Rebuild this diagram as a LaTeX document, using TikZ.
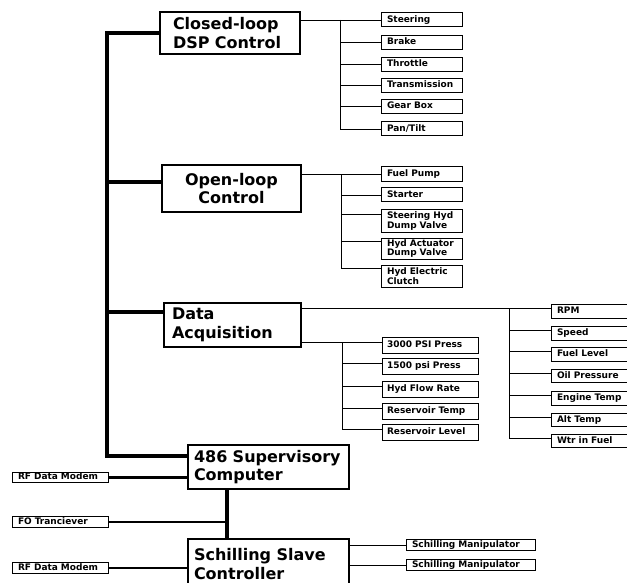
\documentclass[tikz,border=0pt]{standalone}
\usepackage{fontspec}
\setmainfont{DejaVu Sans}
\newcommand{\boxbig}{\fontsize{16}{18.5}\selectfont\bfseries\hyphenpenalty=10000\exhyphenpenalty=10000}
\newcommand{\boxsmall}{\fontsize{9}{9.5}\selectfont\bfseries\hyphenpenalty=10000\exhyphenpenalty=10000}

\begin{document}
\begin{tikzpicture}[x=1pt, y=-1pt,
    mainbox/.style={draw, line width=1.3pt, font=\boxbig, align=left, inner xsep=9pt, inner ysep=2pt},
    itembox/.style={draw, line width=1pt, font=\boxsmall, align=left, inner xsep=6pt, inner ysep=1pt, text width=69pt},
    oneline/.style={text height=6.5pt, text depth=1.7pt},
    wire/.style={line width=0.9pt},
    bus/.style={line width=4pt, line join=miter}]
    \useasboundingbox (0,0) rectangle (627,583);
    \clip (0,0) rectangle (627,583);

    % Main blocks
    \node[mainbox, text width=114pt, inner xsep=13pt, minimum height=42pt] (cl) at (230,33) {Closed-loop\\DSP Control};
    \node[mainbox, align=center, text width=121pt, minimum height=47pt] (ol) at (231.5,188.5) {Open-loop\\Control};
    \node[mainbox, text width=121pt, inner xsep=8pt, minimum height=44pt] (da) at (232.5,325) {Data\\Acquisition};
    \node[mainbox, text width=149pt, inner xsep=6pt, minimum height=44pt] (sup) at (268.5,467) {486 Supervisory\\Computer};
    \node[mainbox, text width=149pt, inner xsep=6pt, minimum height=50pt] (sch) at (268.5,564) {Schilling Slave\\Controller};

    % Backbone from the supervisory computer
    \coordinate (bustop) at (107,33);
    \coordinate (olin) at ([yshift=6pt]ol.west);
    \coordinate (dain) at ([yshift=13pt]da.west);
    \coordinate (supin) at ([yshift=11pt]sup.west);
    \draw[bus] (cl.west) -- (bustop) -- (bustop |- supin) -- (supin);
    \draw[bus] (olin) -- (olin -| bustop);
    \draw[bus] (dain) -- (dain -| bustop);

    % Closed-loop outputs
    \node[itembox, oneline, minimum height=14pt] (steer) at (421.5,20) {Steering};
    \node[itembox, oneline, minimum height=14pt] (brake) at (421.5,42.5) {Brake};
    \node[itembox, oneline, minimum height=14pt] (throt) at (421.5,64.5) {Throttle};
    \node[itembox, oneline, minimum height=14pt] (trans) at (421.5,85.5) {Transmission};
    \node[itembox, oneline, minimum height=14pt] (gear) at (421.5,106.5) {Gear Box};
    \node[itembox, oneline, minimum height=14pt] (pan) at (421.5,129) {Pan/Tilt};
    \coordinate (cltrunk) at (340,20);
    \draw[wire] (cl.east |- steer.west) -- (steer.west);
    \draw[wire] (cltrunk) -- (cltrunk |- pan.west) -- (pan.west);
    \draw[wire] (cltrunk |- brake.west) -- (brake.west);
    \draw[wire] (cltrunk |- throt.west) -- (throt.west);
    \draw[wire] (cltrunk |- trans.west) -- (trans.west);
    \draw[wire] (cltrunk |- gear.west) -- (gear.west);

    % Open-loop outputs
    \node[itembox, oneline, minimum height=15pt] (fuel) at (421.5,174.5) {Fuel Pump};
    \node[itembox, oneline, minimum height=14pt] (start) at (421.5,195) {Starter};
    \node[itembox, minimum height=22pt] (shdv) at (421.5,221) {Steering Hyd\\Dump Valve};
    \node[itembox, minimum height=21pt] (hadv) at (421.5,248.5) {Hyd Actuator\\Dump Valve};
    \node[itembox, minimum height=22pt] (hec) at (421.5,276) {Hyd Electric\\Clutch};
    \coordinate (oltrunk) at (341,174.5);
    \coordinate (shdvin) at ([yshift=-5pt]shdv.north west);
    \coordinate (hadvin) at ([yshift=-4pt]hadv.north west);
    \coordinate (hecin) at ([yshift=-4pt]hec.north west);
    \draw[wire] (ol.east |- fuel.west) -- (fuel.west);
    \draw[wire] (oltrunk) -- (oltrunk |- hecin) -- (hecin);
    \draw[wire] (oltrunk |- start.west) -- (start.west);
    \draw[wire] (oltrunk |- shdvin) -- (shdvin);
    \draw[wire] (oltrunk |- hadvin) -- (hadvin);

    % Hydraulic sensors
    \node[itembox, oneline, inner xsep=5pt, text width=86pt, minimum height=16pt] (p3000) at (430,345) {3000 PSI Press};
    \node[itembox, oneline, inner xsep=5pt, text width=86pt, minimum height=16pt] (p1500) at (430,366.5) {1500 psi Press};
    \node[itembox, oneline, inner xsep=5pt, text width=86pt, minimum height=16pt] (flow) at (430,389) {Hyd Flow Rate};
    \node[itembox, oneline, inner xsep=5pt, text width=86pt, minimum height=16pt] (rtemp) at (430,411) {Reservoir Temp};
    \node[itembox, oneline, inner xsep=5pt, text width=86pt, minimum height=16pt] (rlevel) at (430,432.5) {Reservoir Level};
    \coordinate (hytrunk) at (342,0);
    \coordinate (p3000in) at ([yshift=3pt]p3000.west);
    \coordinate (p1500in) at ([yshift=3pt]p1500.west);
    \coordinate (flowin) at ([yshift=3pt]flow.west);
    \coordinate (rtempin) at ([yshift=3pt]rtemp.west);
    \coordinate (rlevelin) at ([yshift=3pt]rlevel.west);
    \draw[wire] (p3000in -| da.east) -- (p3000in);
    \draw[wire] (p3000in -| hytrunk) -- (rlevelin -| hytrunk) -- (rlevelin);
    \draw[wire] (p1500in -| hytrunk) -- (p1500in);
    \draw[wire] (flowin -| hytrunk) -- (flowin);
    \draw[wire] (rtempin -| hytrunk) -- (rtempin);

    % Engine sensors
    \node[itembox, oneline, text width=78pt, minimum height=13.5pt] (rpm) at (596,311.5) {RPM};
    \node[itembox, oneline, text width=78pt, minimum height=13.5pt] (speed) at (596,333.5) {Speed};
    \node[itembox, oneline, text width=78pt, minimum height=13.5pt] (flevel) at (596,354.5) {Fuel Level};
    \node[itembox, oneline, text width=78pt, minimum height=13.5pt] (oilp) at (596,376) {Oil Pressure};
    \node[itembox, oneline, text width=78pt, minimum height=13.5pt] (etemp) at (596,398.5) {Engine Temp};
    \node[itembox, oneline, text width=78pt, minimum height=13.5pt] (atemp) at (596,420) {Alt Temp};
    \node[itembox, oneline, text width=78pt, minimum height=13.5pt] (wtr) at (596,441) {Wtr in Fuel};
    \coordinate (entrunk) at (509,0);
    \coordinate (rpmin) at ([yshift=3pt]rpm.west);
    \coordinate (speedin) at ([yshift=3pt]speed.west);
    \coordinate (flevelin) at ([yshift=3pt]flevel.west);
    \coordinate (oilpin) at ([yshift=3pt]oilp.west);
    \coordinate (etempin) at ([yshift=3pt]etemp.west);
    \coordinate (atempin) at ([yshift=3pt]atemp.west);
    \coordinate (wtrin) at ([yshift=3pt]wtr.west);
    \draw[wire] (rpmin -| da.east) -- (rpmin);
    \draw[wire] (rpmin -| entrunk) -- (wtrin -| entrunk) -- (wtrin);
    \draw[wire] (speedin -| entrunk) -- (speedin);
    \draw[wire] (flevelin -| entrunk) -- (flevelin);
    \draw[wire] (oilpin -| entrunk) -- (oilpin);
    \draw[wire] (etempin -| entrunk) -- (etempin);
    \draw[wire] (atempin -| entrunk) -- (atempin);

    % Communication links
    \node[itembox, oneline, inner xsep=6pt, text width=84pt, minimum height=10.5pt] (rf1) at (60,477.5) {RF Data Modem};
    \node[itembox, oneline, inner xsep=6pt, text width=84pt, minimum height=10.5pt] (fo) at (60,522) {FO Tranciever};
    \node[itembox, oneline, inner xsep=6pt, text width=84pt, minimum height=10.5pt] (rf2) at (60,568) {RF Data Modem};
    \coordinate (link) at ([xshift=40pt]sup.south west);
    \draw[line width=4pt] (link) -- (link |- sch.north);
    \draw[line width=2.8pt] (fo.east) -- (fo.east -| link);
    \draw[line width=2.5pt] (rf1.east) -- (rf1.east -| sup.west);
    \draw[line width=2pt] (rf2.east) -- (rf2.east -| sch.west);

    % Manipulators
    \node[itembox, oneline, inner xsep=6pt, text width=117pt, minimum height=10pt] (sm1) at (470.5,545) {Schilling Manipulator};
    \node[itembox, oneline, inner xsep=6pt, text width=117pt, minimum height=10pt] (sm2) at (470.5,565) {Schilling Manipulator};
    \draw[wire] (sm1.west -| sch.east) -- (sm1.west);
    \draw[wire] (sm2.west -| sch.east) -- (sm2.west);
\end{tikzpicture}
\end{document}
